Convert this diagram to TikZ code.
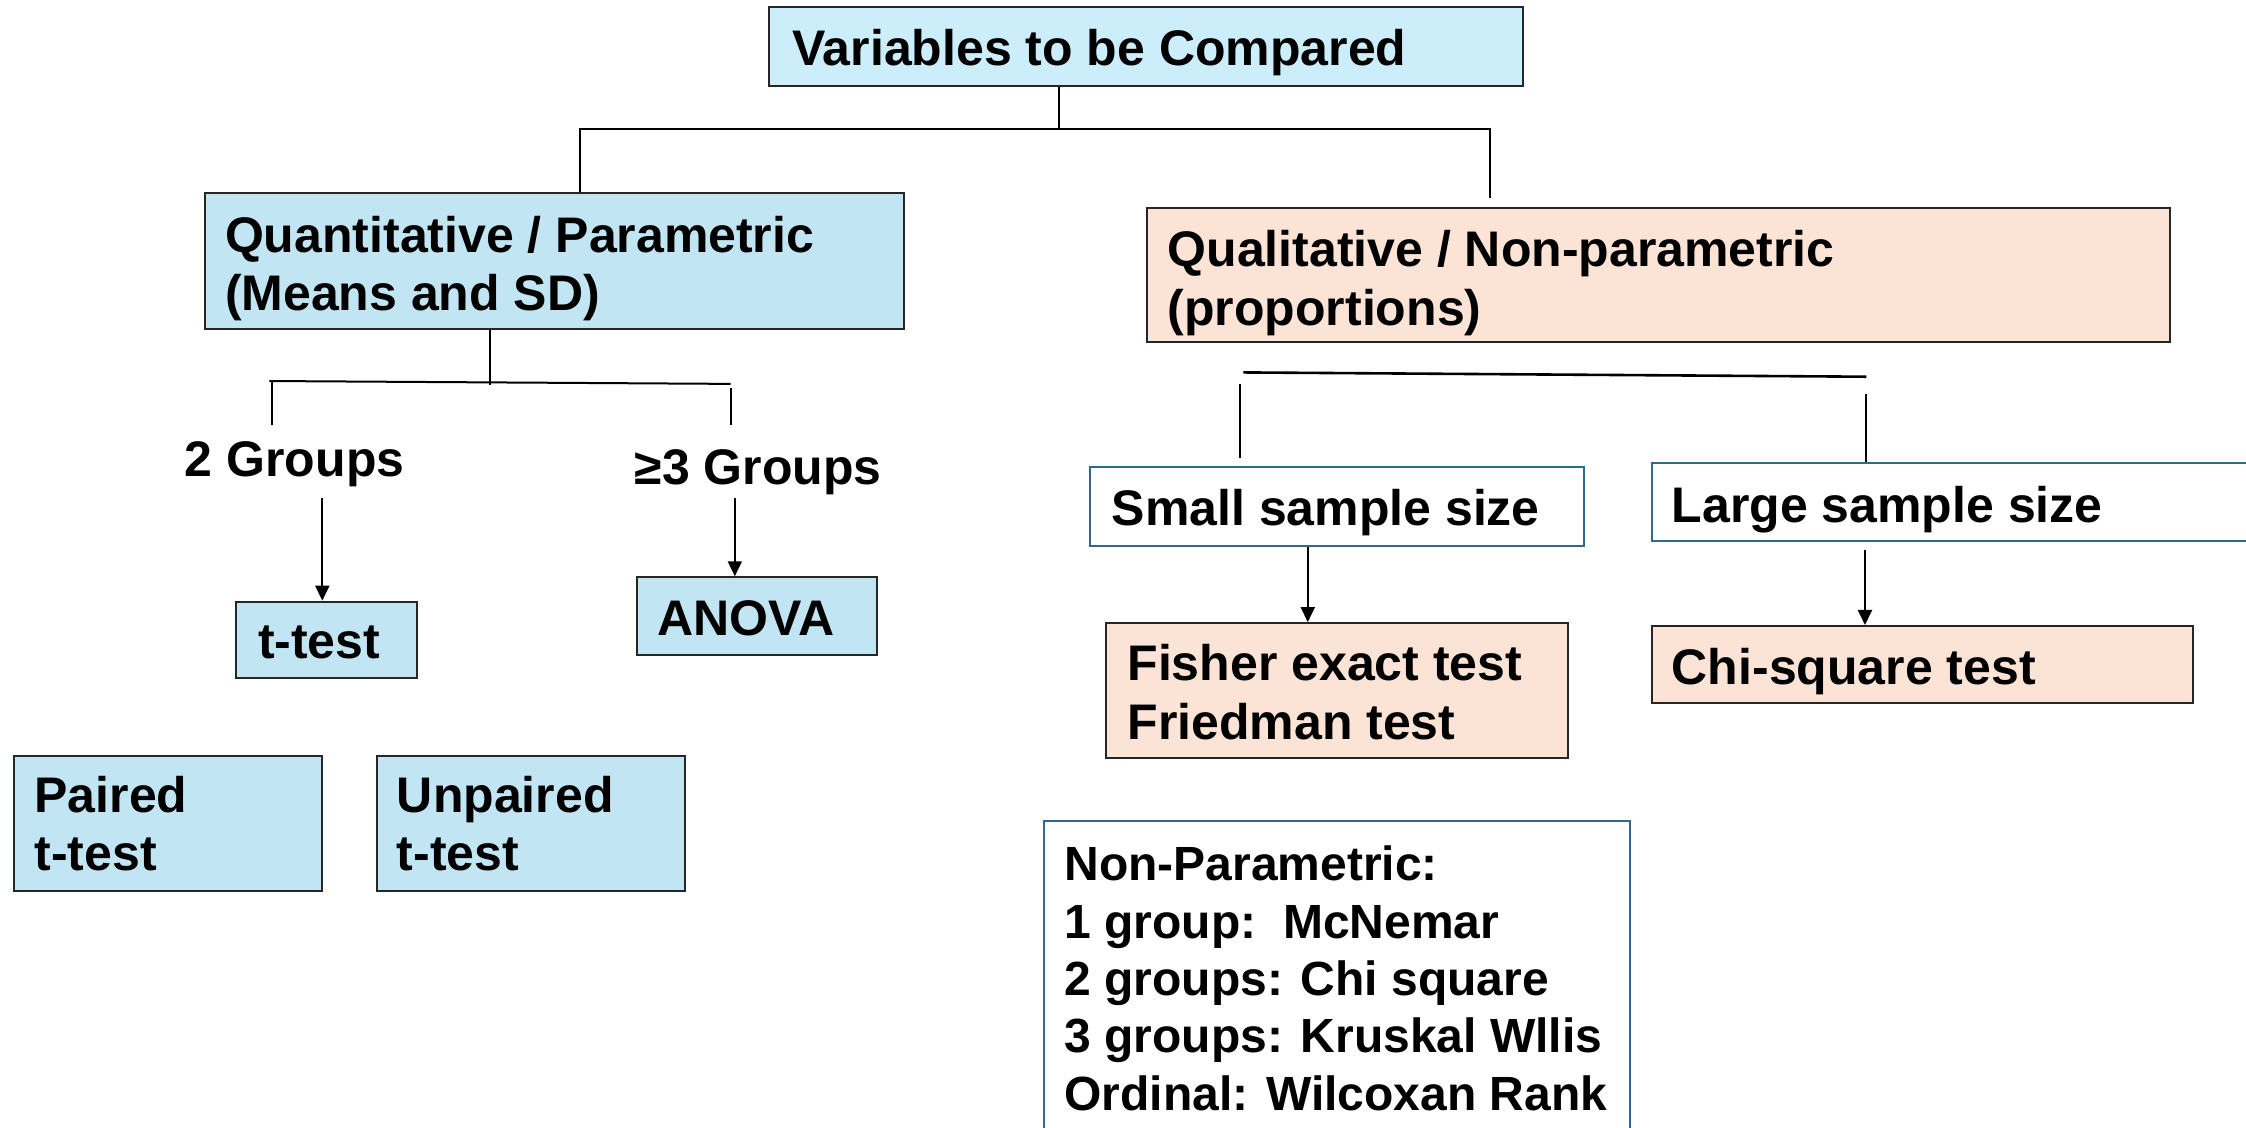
\documentclass[tikz,border=0pt]{standalone}
\usepackage{fontspec}
\setmainfont{Liberation Sans}
\usetikzlibrary{fit,arrows.meta}
\definecolor{blueFill}{HTML}{C2E5F4}
\definecolor{topFill}{HTML}{CCEEFA}
\definecolor{peachFill}{HTML}{FBE3D6}
\definecolor{frameDark}{HTML}{262626}
\definecolor{frameTeal}{HTML}{2E6B8A}
\tikzset{
  boxbase/.style={rectangle, inner sep=0pt, line width=2pt},
  bluebox/.style={boxbase, draw=frameDark, fill=blueFill},
  topbox/.style={boxbase, draw=frameDark, fill=topFill},
  peachbox/.style={boxbase, draw=frameDark, fill=peachFill},
  openbox/.style={boxbase, draw=frameTeal, fill=white},
  % multi-line labels sit on the baseline of their last line
  lbl/.style={inner sep=0pt, anchor=base west, align=left,
    font=\bfseries\fontsize{50}{58.5}\selectfont},
  smalllbl/.style={lbl, font=\bfseries\fontsize{48}{57.3}\selectfont},
  conn/.style={line width=2pt, draw=black},
  arr/.style={conn, -{Triangle[length=15pt,width=14pt]}},
}
\begin{document}
\begin{tikzpicture}[x=1.4324pt, y=-1.4324pt]
\useasboundingbox (0,0) rectangle (1568,787);
\clip (0,0) rectangle (1568,787);
\fill[white] (0,0) rectangle (1568,787);

% boxes
\node[topbox,   fit={(537,5) (1063,60)}]    (top)   {};
\node[bluebox,  fit={(143,135) (631,230)}]  (quant) {};
\node[peachbox, fit={(801,145) (1515,239)}] (qual)  {};
\node[bluebox,  fit={(165,420) (291,473)}]  (ttest) {};
\node[bluebox,  fit={(445,403) (612,457)}]  (anova) {};
\node[bluebox,  fit={(10,528) (225,622)}]   (paired) {};
\node[bluebox,  fit={(263,528) (478,622)}]  (unpaired) {};
\node[openbox,  fit={(761,326) (1106,381)}] (small) {};
\node[openbox,  fit={(1153,323) (1590,378)}] (large) {};
\node[peachbox, fit={(772,435) (1095,529)}] (fisher) {};
\node[peachbox, fit={(1153,437) (1531,491)}] (chi) {};
\node[openbox,  fit={(729,573) (1138,800)}] (nonpar) {};

% texts
\node[lbl] (topT)      at (553,46)  {Variables to be Compared};
\node[lbl] (quantT)    at (157,217) {Quantitative / Parametric\\(Means and SD)};
\node[lbl] (qualT)     at (815,227) {Qualitative / Non-parametric\\(proportions)};
\node[lbl] (twoG)      at (129,333) {2 Groups};
\node[lbl] (threeG)    at (443,338) {≥3 Groups};
\node[lbl] (ttestT)    at (180,460) {t-test};
\node[lbl] (anovaT)    at (459,444) {ANOVA};
\node[lbl] (pairedT)   at (24,608)  {Paired\\t-test};
\node[lbl] (unpairedT) at (277,608) {Unpaired\\t-test};
\node[lbl] (smallT)    at (776,367) {Small sample size};
\node[lbl] (largeT)    at (1167,365) {Large sample size};
\node[lbl] (fisherT)   at (787,516) {Fisher exact test\\Friedman test};
\node[lbl] (chiT)      at (1167,478) {Chi-square test};
\node[smalllbl] (nonparT) at (743,775)
  {Non-Parametric:\\1 group:\ \ McNemar\\2 groups: Chi square\\3 groups: Kruskal Wllis\\Ordinal: Wilcoxan Rank};

% first split
\coordinate (jTop) at (739,90);
\coordinate (jL)   at (405,90);
\coordinate (jR)   at (1040,90);
\coordinate (jRend) at (1040,138);
\draw[conn] (jTop |- top.south) -- (jTop);
\draw[conn] (quant.north -| jL) -- (jL) -- (jR) -- (jRend);

% quantitative branch
\coordinate (qMid) at (342,269);
\coordinate (qBarL) at (188,266);
\coordinate (qBarR) at (510,268);
\coordinate (qDropL) at (190,297);
\coordinate (qDropR) at (510,297);
\draw[conn] (qMid |- quant.south) -- (qMid);
\draw[conn] (qBarL) -- (qBarR);
\draw[conn] (qBarL -| qDropL) -- (qDropL);
\draw[conn] ([yshift=-4]qBarR) -- (qDropR);
\coordinate (aTs) at (225,348);
\coordinate (aAs) at (513,348);
\draw[arr] (aTs) -- (aTs |- ttest.north);
\draw[arr] (aAs) -- (aAs |- anova.north);

% qualitative branch
\coordinate (rBarL) at (868,260);
\coordinate (rBarR) at (1303,263);
\coordinate (rDropL) at (866,268);
\coordinate (rDropLend) at (866,320);
\coordinate (rDropR) at (1303,275);
\draw[conn, line width=2.6pt] (rBarL) -- (rBarR);
\draw[conn] (rDropL) -- (rDropLend);
\draw[conn] (rDropR) -- (rDropR |- large.north);
\coordinate (aFs) at (913,381);
\coordinate (aCs) at (1302,384);
\draw[arr] (aFs |- small.south) -- (aFs |- fisher.north);
\draw[arr] (aCs) -- (aCs |- chi.north);
\end{tikzpicture}
\end{document}
